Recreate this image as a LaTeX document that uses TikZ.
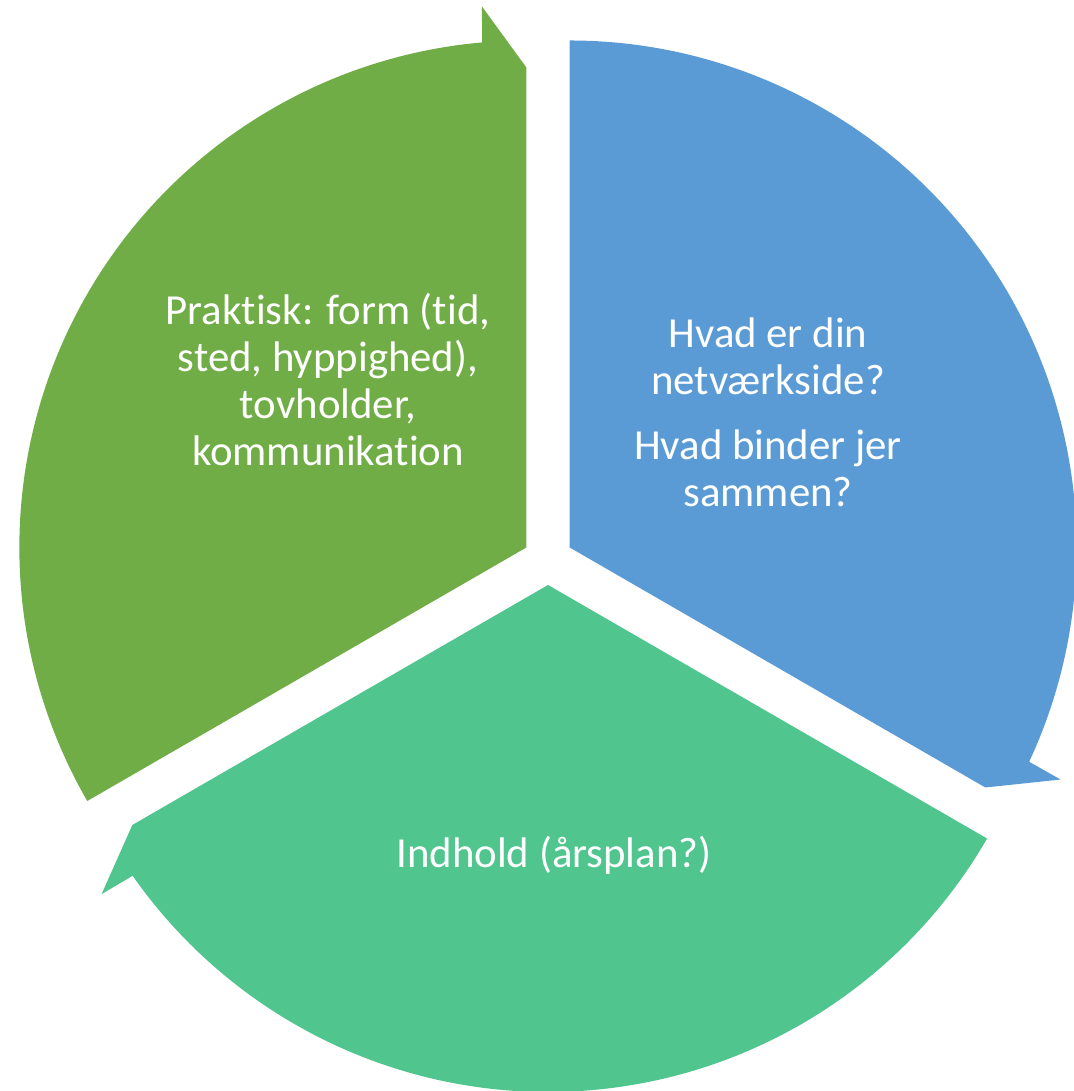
\documentclass[tikz,border=0pt]{standalone}
\usepackage{fontspec}
\setmainfont{Carlito}[Ligatures=NoCommon]
\usetikzlibrary{positioning}

\definecolor{segblue}{RGB}{91,155,213}
\definecolor{seggreen}{RGB}{112,173,71}
\definecolor{segteal}{RGB}{80,197,142}

\begin{document}
\begin{tikzpicture}[x=0.5pt,y=0.5pt]
  \tikzset{segtext/.style={text=white, align=center,
      font=\fontsize{21.4}{23.5}\selectfont}}
  \useasboundingbox (0,0) rectangle (1074,1091);
  \coordinate (mid) at (548,531);
  % three exploded wedges, each ending in a one-sided arrow tip
  \foreach \s/\col in {90/segblue,330/segteal,210/seggreen}{
    \begin{scope}[shift={(mid)}, shift={(\s-60:25)}]
      \fill[\col] (0,0) -- (\s:507)
        arc[start angle=\s, end angle=\s-115, radius=507]
        -- (\s-115.3:543) -- (\s-120:480) -- cycle;
    \end{scope}
  }
  \node[segtext] (practical) at (328,711)
    {Praktisk: form (tid,\\sted, hyppighed),\\tovholder,\\kommunikation};
  \node[segtext] (network) at (768,679)
    {Hvad er din\\netværkside?\\[9pt]Hvad binder jer\\sammen?};
  \node[segtext] (content) at (554,236) {Indhold (årsplan?)};
\end{tikzpicture}
\end{document}
